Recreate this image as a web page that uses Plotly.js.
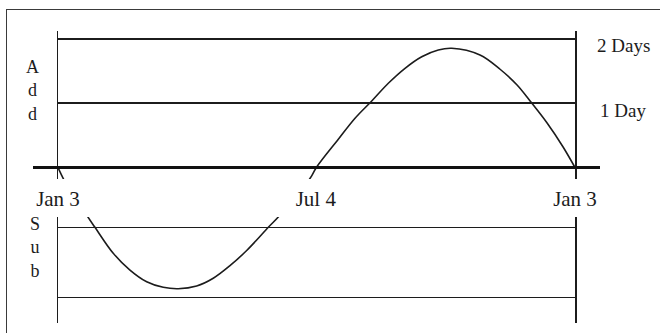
<!DOCTYPE html>
<html>
<head>
<meta charset="utf-8">
<script src="https://cdn.plot.ly/plotly-3.0.1.min.js"></script>
<style>
  html, body { margin: 0; padding: 0; background: #fff; }
  #wrap { position: relative; width: 660px; height: 333px; overflow: hidden; }
  #chart { position: absolute; left: 0; top: 0; width: 660px; height: 333px; }
  #frame { position: absolute; left: 6px; top: 9px; width: 660px; height: 340px;
           border-left: 1px solid #3a3a3a; border-top: 1px solid #3a3a3a; pointer-events: none; }
</style>
</head>
<body>
<div id="wrap"><div id="chart"></div><div id="frame"></div></div>
<script>
// ---- data ----
// days counted from Jan 3 (0) to the next Jan 3 (365)
const tickDays   = [0, 182, 365];
const tickLabels = ["Jan 3", "Jul 4", "Jan 3"];
// reference levels (days) drawn as the horizontal rules
const addLevels  = [1, 2];
const addLabels  = ["1 Day", "2 Days"];
const subLevels  = [-1, -2];
// the curve: days to add (+) or subtract (-)
const curveDays   = [0, 5, 12, 20.7, 26.1, 39.0, 50.8, 62.6, 74.3, 84.9, 97.9, 109.6, 121.4, 133.2, 148.5, 156.7, 168, 179.1, 182.4,
                     197.9, 209.7, 221.5, 233.2, 245.0, 256.8, 268.5, 278.0, 297.9, 312.1, 324.1, 333.3, 345.3, 356.6, 365];
const curveOffset = [0, -0.23, -0.53, -0.84, -1.0, -1.369, -1.607, -1.773, -1.852, -1.872, -1.834, -1.724, -1.545, -1.33, -1.0, -0.825, -0.48, -0.13, 0,
                     0.439, 0.766, 1.035, 1.311, 1.544, 1.724, 1.829, 1.855, 1.751, 1.529, 1.284, 1.035, 0.693, 0.319, 0];

const ink = "#1c1c1c";
const serif = "Liberation Serif, Times New Roman, serif";

const curveLine = { color: ink, width: 1.6, shape: "spline", smoothing: 1 };
const traces = [
  { x: curveDays, y: curveOffset, xaxis: "x",  yaxis: "y",  mode: "lines", line: curveLine, hoverinfo: "skip" },
  { x: curveDays, y: curveOffset, xaxis: "x2", yaxis: "y2", mode: "lines", line: curveLine, hoverinfo: "skip" }
];

const xDomain = [58 / 660, 575 / 660];
const layout = {
  width: 660, height: 333,
  margin: { l: 0, r: 0, t: 0, b: 0, pad: 0 },
  paper_bgcolor: "#ffffff", plot_bgcolor: "#ffffff",
  showlegend: false,
  font: { family: serif, color: ink },
  xaxis: {
    domain: xDomain, anchor: "y", range: [0, 365],
    tickvals: tickDays, ticktext: tickLabels, ticks: "", ticklabelstandoff: 5,
    tickfont: { family: serif, size: 21, color: ink },
    showgrid: false, zeroline: false, showline: false, fixedrange: true
  },
  yaxis: {
    domain: [(333 - 179) / 333, (333 - 30.5) / 333], anchor: "x",
    range: [-0.179, 2.132],
    tickvals: addLevels, showticklabels: false, ticks: "",
    showgrid: true, gridcolor: ink, gridwidth: 1.5,
    zeroline: false, showline: true, mirror: true, linecolor: ink, linewidth: 1.5
  },
  xaxis2: {
    domain: xDomain, anchor: "y2", range: [0, 365], matches: "x",
    showticklabels: false, ticks: "", showgrid: false, zeroline: false, showline: false
  },
  yaxis2: {
    domain: [(333 - 322.5) / 333, (333 - 217) / 333], anchor: "x2",
    range: [-2.352, -0.854],
    tickvals: subLevels, showticklabels: false, ticks: "",
    showgrid: true, gridcolor: ink, gridwidth: 1.5,
    zeroline: false, showline: true, mirror: true, linecolor: ink, linewidth: 1.5
  },
  shapes: [
    // thick zero baseline of the "Add" panel, running past both ends
    { type: "line", xref: "paper", yref: "y", x0: 33 / 660, x1: 600 / 660, y0: 0, y1: 0,
      line: { color: "#111", width: 3.2 } }
  ],
  annotations: addLevels.map((lv, i) => ({
    xref: "x domain", yref: "y", x: 1, y: lv, xanchor: "center", yanchor: "middle",
    xshift: 48, yshift: -7, showarrow: false, text: addLabels[i],
    font: { family: serif, size: 19, color: ink }
  })).concat([
    { xref: "paper", yref: "paper", x: 32 / 660, y: (333 - 90) / 333, xanchor: "center", yanchor: "middle",
      showarrow: false, text: "A<br>d<br>d", font: { family: serif, size: 18, color: ink } },
    { xref: "paper", yref: "paper", x: 35 / 660, y: (333 - 247) / 333, xanchor: "center", yanchor: "middle",
      showarrow: false, text: "S<br>u<br>b", font: { family: serif, size: 18, color: ink } }
  ])
};

Plotly.newPlot("chart", traces, layout, { staticPlot: true, displayModeBar: false });
</script>
</body>
</html>
